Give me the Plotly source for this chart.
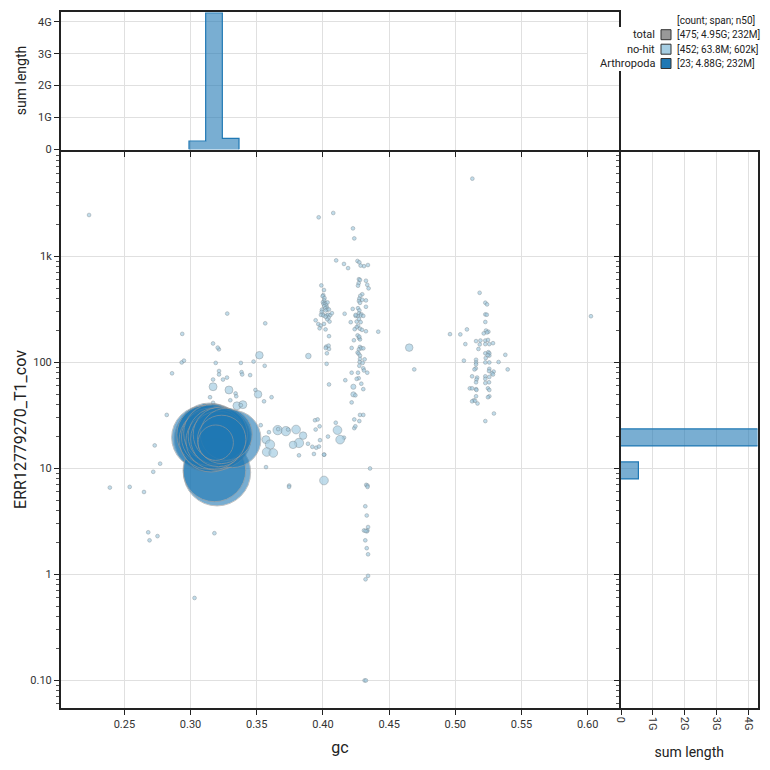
import numpy as np
import plotly.graph_objects as go

# ---------------- data ----------------
# Arthropoda contigs: gc, coverage, length (Mb)
arth_gc = [0.3095, 0.3315, 0.3270,
           0.3125, 0.3140, 0.3155, 0.3170, 0.3185, 0.3200, 0.3215, 0.3230, 0.3120,
           0.3135, 0.3150, 0.3165, 0.3180, 0.3195, 0.3210, 0.3225, 0.3235, 0.3190,
           0.3200, 0.3180]
arth_cov = [19.6, 19.0, 21.0,
            19.0, 20.5, 18.0, 21.0, 19.5, 18.5, 20.0, 19.2, 20.8,
            18.6, 19.8, 21.5, 18.2, 20.2, 19.0, 21.0, 18.8, 17.5,
            9.2, 9.6]
arth_len_mb = [260, 200, 150,
               290, 280, 240, 236, 232, 230, 228, 222, 218,
               212, 205, 200, 195, 190, 180, 170, 122, 50,
               313, 257]

# no-hit contigs: [gc, coverage, length (kb)]
nohit_top = [[0.2233, 2460, 80], [0.3968, 2340, 80], [0.4078, 2570, 80], [0.4227, 1840, 80],
             [0.4237, 1480, 80], [0.5129, 5420, 80], [0.6025, 273, 80]]

nohit_right = [[0.5184, 454, 80], [0.5227, 366, 80], [0.5240, 353, 80], [0.5227, 284, 80],
               [0.5238, 282, 80], [0.5227, 241, 80], [0.4960, 185, 80], [0.5038, 184, 80],
               [0.5088, 205, 80], [0.5076, 149, 80], [0.5232, 200, 80], [0.5250, 195, 80],
               [0.5215, 188, 80], [0.5240, 192, 80], [0.5157, 159, 80], [0.5190, 161, 80],
               [0.5185, 148, 80], [0.5227, 161, 80], [0.5247, 163, 80], [0.5227, 149, 80],
               [0.5257, 149, 80], [0.5285, 152, 80], [0.5175, 134, 80], [0.5227, 122, 80],
               [0.5250, 125, 80], [0.5257, 122, 80], [0.5257, 116, 80], [0.5245, 117, 80],
               [0.5378, 118, 80], [0.5230, 110, 80], [0.5157, 106, 80], [0.5065, 104, 80],
               [0.5157, 100, 80], [0.5157, 96, 80], [0.5227, 100, 80], [0.5257, 100, 80],
               [0.5327, 101, 80], [0.5155, 88, 80], [0.5145, 86, 80], [0.5257, 87, 80],
               [0.5255, 83, 80], [0.5290, 82, 80], [0.5277, 79, 80], [0.5285, 77, 80],
               [0.5396, 86, 80], [0.5127, 74, 80], [0.5165, 72, 80], [0.5160, 69, 80],
               [0.5227, 74, 80], [0.5257, 73, 80], [0.5227, 70, 80], [0.5255, 65, 80],
               [0.5227, 64, 80], [0.5157, 65, 80], [0.5110, 57, 80], [0.5127, 57, 80],
               [0.5157, 56, 80], [0.5160, 55, 80], [0.5247, 57, 80], [0.5257, 55, 80],
               [0.5157, 48, 80], [0.5257, 48, 80], [0.5247, 47, 80], [0.5140, 44, 80],
               [0.5127, 43, 80], [0.5150, 43.5, 80], [0.5168, 41, 80], [0.5292, 33, 80],
               [0.5227, 28, 80]]

nohit_col40 = [[0.3988, 533, 80], [0.4008, 482, 80], [0.4003, 431, 80], [0.3998, 422, 80],
               [0.4012, 405, 80], [0.4010, 385, 80], [0.4000, 370, 80], [0.4015, 365, 80],
               [0.4005, 355, 80], [0.4020, 357, 80], [0.4035, 368, 80], [0.4025, 345, 80],
               [0.4010, 340, 80], [0.4030, 330, 80], [0.4018, 325, 80], [0.3993, 315, 80],
               [0.4033, 315, 80], [0.4020, 309, 80], [0.4045, 316, 80], [0.3990, 300, 80],
               [0.3998, 284, 80], [0.3985, 281, 80], [0.4005, 277, 80], [0.4028, 278, 80],
               [0.4040, 282, 80], [0.4055, 279, 80], [0.4068, 292, 80], [0.4043, 265, 80],
               [0.4033, 255, 80], [0.4020, 270, 80], [0.3945, 250, 80], [0.3965, 230, 80],
               [0.3983, 223, 80], [0.4008, 231, 80], [0.4050, 243, 80], [0.3975, 210, 80],
               [0.4020, 205, 80], [0.4046, 177, 80], [0.4025, 141, 80], [0.4043, 144, 80],
               [0.4046, 134, 80], [0.4021, 137, 80], [0.4030, 122, 80], [0.4028, 97, 80],
               [0.4046, 62, 80], [0.3890, 115, 250], [0.4164, 288, 80], [0.4169, 68, 80],
               [0.4217, 80, 80], [0.4217, 42, 80], [0.4097, 27, 80], [0.4038, 20, 80],
               [0.4110, 23, 900], [0.4159, 19.5, 80], [0.4130, 18.7, 900], [0.4010, 13.5, 80],
               [0.3978, 18.5, 80], [0.3920, 16.0, 80], [0.3950, 15.7, 80], [0.3970, 16.1, 80],
               [0.3940, 28.5, 80], [0.3960, 29.0, 80], [0.3975, 25.0, 80], [0.3945, 23.3, 80],
               [0.4008, 7.7, 900]]

nohit_col43 = [[0.4261, 906, 80], [0.4275, 880, 80], [0.4100, 918, 80], [0.4159, 850, 80],
               [0.4190, 776, 80], [0.4310, 810, 80], [0.4340, 830, 80], [0.4285, 820, 80],
               [0.4272, 610, 80], [0.4280, 600, 80], [0.4270, 560, 80], [0.4265, 530, 80],
               [0.4325, 590, 80], [0.4335, 540, 80], [0.4345, 500, 80], [0.4297, 440, 80],
               [0.4282, 425, 80], [0.4275, 400, 80], [0.4272, 380, 80], [0.4297, 390, 80],
               [0.4325, 385, 80], [0.4280, 365, 80], [0.4325, 335, 80], [0.4225, 320, 80],
               [0.4265, 325, 80], [0.4275, 310, 80], [0.4272, 290, 80], [0.4290, 285, 80],
               [0.4285, 277, 80], [0.4305, 275, 80], [0.4262, 275, 80], [0.4247, 275, 80],
               [0.4418, 195, 80], [0.4210, 240, 80], [0.4255, 243, 80], [0.4272, 257, 80],
               [0.4285, 240, 80], [0.4265, 222, 80], [0.4255, 215, 80], [0.4280, 208, 80],
               [0.4295, 203, 80], [0.4325, 197, 80], [0.4240, 206, 80], [0.4262, 180, 80],
               [0.4272, 170, 80], [0.4280, 165, 80], [0.4275, 175, 80], [0.4217, 137, 80],
               [0.4280, 140, 80], [0.4272, 133, 80], [0.4290, 136, 80], [0.4305, 136, 80],
               [0.4262, 124, 80], [0.4270, 121, 80], [0.4280, 116, 80], [0.4280, 108, 80],
               [0.4315, 107, 80], [0.4277, 101, 80], [0.4300, 99, 80], [0.4275, 93, 80],
               [0.4305, 88, 80], [0.4310, 84, 80], [0.4335, 80, 80], [0.4265, 80, 80],
               [0.4270, 71, 80], [0.4255, 70, 80], [0.4290, 63, 80], [0.4305, 56, 80],
               [0.4230, 59, 200], [0.4230, 50, 200], [0.4245, 49, 80], [0.4280, 32, 80],
               [0.4305, 32, 80], [0.4275, 28, 80], [0.4237, 29, 80], [0.4237, 24, 80],
               [0.4245, 25, 80], [0.4356, 10.0, 80], [0.4327, 7.0, 80], [0.4337, 6.9, 80],
               [0.4337, 6.7, 80], [0.4320, 4.4, 80], [0.4331, 3.6, 80], [0.4341, 2.8, 80],
               [0.4336, 2.6, 80], [0.4310, 2.6, 80], [0.4332, 2.55, 80], [0.4322, 2.58, 80],
               [0.4320, 2.1, 80], [0.4331, 1.77, 80], [0.4341, 1.55, 80], [0.4341, 0.97, 80],
               [0.4322, 0.90, 80], [0.4315, 0.10, 80], [0.4325, 0.10, 80], [0.4652, 138, 600],
               [0.4690, 86, 80], [0.4247, 281, 80], [0.4234, 162, 80]]

nohit_left = [[0.2933, 100, 80], [0.2950, 104, 80], [0.3190, 99, 80], [0.3380, 99, 80],
              [0.3476, 102, 80], [0.3560, 93, 80], [0.2860, 79, 80], [0.3215, 83, 80],
              [0.3385, 81, 80], [0.3390, 77, 80], [0.3450, 76, 80], [0.3215, 77, 80],
              [0.3275, 72, 80], [0.3245, 69, 80], [0.3170, 69, 80], [0.3170, 59, 700],
              [0.3290, 55, 700], [0.3340, 51, 80], [0.3345, 48, 80], [0.3147, 47, 80],
              [0.3490, 55, 80], [0.3510, 50, 600], [0.3555, 43, 80], [0.3612, 47, 80],
              [0.3170, 41.6, 80], [0.3300, 44, 80], [0.3350, 39, 700], [0.3395, 40, 700],
              [0.3380, 39.5, 80], [0.3105, 39, 80], [0.2820, 32, 80], [0.3530, 25.6, 80],
              [0.3658, 23, 1100], [0.3720, 22.5, 1100], [0.3592, 22, 80], [0.3570, 18.7, 700],
              [0.3600, 16.8, 1100], [0.3575, 14.3, 900], [0.3625, 14.0, 900], [0.3570, 10.3, 80],
              [0.2729, 16.5, 80], [0.2770, 11.1, 80], [0.2718, 9.3, 80], [0.2540, 6.7, 80],
              [0.2648, 6.0, 80], [0.3745, 6.9, 80], [0.2390, 6.6, 80], [0.2680, 2.5, 80],
              [0.2690, 2.1, 80], [0.2750, 2.3, 80], [0.3180, 2.45, 80], [0.3030, 0.60, 80],
              [0.2937, 186, 80], [0.3277, 289, 80], [0.3564, 234, 80], [0.3170, 151, 80],
              [0.3214, 133, 80], [0.3205, 138, 80], [0.3520, 117, 600], [0.3662, 23.5, 80],
              [0.3737, 23.3, 80], [0.3797, 23.3, 900], [0.3850, 20.4, 600], [0.3819, 17.4, 1100],
              [0.3774, 16.7, 600], [0.3887, 17.1, 80], [0.3932, 13.7, 80], [0.3819, 13.3, 80],
              [0.4008, 13.5, 80], [0.3744, 6.7, 80]]

legend_labels = ["total", "no-hit", "Arthropoda"]
legend_stats = ["[475; 4.95G; 232M]", "[452; 63.8M; 602k]", "[23; 4.88G; 232M]"]
legend_header = "[count; span; n50]"

gc_ticks = [0.25, 0.30, 0.35, 0.40, 0.45, 0.50, 0.55, 0.60]
gc_ticktext = ["0.25", "0.30", "0.35", "0.40", "0.45", "0.50", "0.55", "0.60"]
cov_ticks = [0.1, 1, 10, 100, 1000]
cov_ticktext = ["0.10", "1", "10", "100", "1k"]
len_ticks = [0, 1e9, 2e9, 3e9, 4e9]
len_ticktext = ["0", "1G", "2G", "3G", "4G"]

gc_bin_start, gc_bin_size = 0.2988, 0.0126
logcov_bin_start, logcov_bin_size = 0.895, 0.157

# ---------------- styling helpers ----------------
FONT = "Roboto"
LINE = "#222222"
GRID = "#e0e0e0"
X_RANGE = [0.2021, 0.6237]
LOGY_RANGE = [-1.255, 3.99]
HIST_FILL = "rgba(31,120,180,0.6)"
HIST_LINE = "#1f78b4"


def px_size(length_bp):
    return np.maximum(3.3, 9.0 * (np.asarray(length_bp) / 1e6) ** 0.35)


nohit = np.array(nohit_top + nohit_right + nohit_col40 + nohit_col43 + nohit_left, dtype=float)
nh_gc, nh_cov, nh_len = nohit[:, 0], nohit[:, 1], nohit[:, 2] * 1e3

a_gc = np.array(arth_gc)
a_cov = np.array(arth_cov)
a_len = np.array(arth_len_mb) * 1e6
order = np.argsort(-a_len)

# histograms (sum of length per bin)
gc_edges = gc_bin_start + gc_bin_size * np.arange(0, 35)
gc_sum, _ = np.histogram(a_gc, bins=gc_edges, weights=a_len)
lc_edges = logcov_bin_start + logcov_bin_size * np.arange(-14, 20)
lc_sum, _ = np.histogram(np.log10(a_cov), bins=lc_edges, weights=a_len)

fig = go.Figure()

fig.add_trace(go.Scatter(
    x=nh_gc, y=nh_cov, mode="markers", xaxis="x", yaxis="y", showlegend=False,
    marker=dict(size=px_size(nh_len), color="#a6cee3", opacity=0.7,
                line=dict(color="#707f88", width=0.6))))

fig.add_trace(go.Scatter(
    x=a_gc[order], y=a_cov[order], mode="markers", xaxis="x", yaxis="y", showlegend=False,
    marker=dict(size=px_size(a_len[order]), color="#1f78b4", opacity=0.6,
                line=dict(color="#9a9a9a", width=1))))

# top histogram: filled bars + step outline
gc_centers = (gc_edges[:-1] + gc_edges[1:]) / 2
fig.add_trace(go.Bar(x=gc_centers, y=gc_sum, width=gc_bin_size, xaxis="x2", yaxis="y2",
                     showlegend=False, marker=dict(color=HIST_FILL, line=dict(width=0))))
nz = np.nonzero(gc_sum)[0]
lo, hi = nz[0], nz[-1]
sx = np.concatenate([[gc_edges[lo]], np.repeat(gc_edges[lo:hi + 2], 2)[1:-1], [gc_edges[hi + 1]]])
sy = np.concatenate([[0], np.repeat(gc_sum[lo:hi + 1], 2), [0]])
fig.add_trace(go.Scatter(x=sx, y=sy, mode="lines", xaxis="x2", yaxis="y2", showlegend=False,
                         line=dict(color=HIST_LINE, width=1.2)))

# right histogram (log10 coverage bins)
lc_centers = (lc_edges[:-1] + lc_edges[1:]) / 2
fig.add_trace(go.Bar(y=lc_centers, x=lc_sum, width=logcov_bin_size, orientation="h",
                     xaxis="x3", yaxis="y3", showlegend=False,
                     marker=dict(color=HIST_FILL, line=dict(color=HIST_LINE, width=1.2))))

W = 770.0
def xp(p):
    return p / W
def yp(p):
    return 1 - p / W

XD_MAIN = [xp(61), xp(619)]
XD_RIGHT = [xp(621), xp(757.5)]
YD_MAIN = [yp(707.5), yp(151.5)]
YD_TOP = [yp(149.5), yp(11.5)]

axis_common = dict(showline=True, linecolor=LINE, linewidth=2, mirror=True,
                   ticks="outside", tickcolor=LINE, ticklen=5, tickwidth=1,
                   gridcolor=GRID, gridwidth=1, zeroline=False, automargin=False,
                   tickfont=dict(family=FONT, size=11, color="#333"))

minor_log = [m * 10.0 ** d for d in range(-2, 4) for m in range(2, 10)]

fig.update_layout(
    width=770, height=770, margin=dict(l=0, r=0, t=0, b=0),
    paper_bgcolor="white", plot_bgcolor="white",
    font=dict(family=FONT, color="#222"),
    bargap=0,
    xaxis=dict(domain=XD_MAIN, range=X_RANGE, anchor="y", tickvals=gc_ticks,
               ticktext=gc_ticktext,
               title=dict(text="gc", font=dict(size=16, family=FONT), standoff=12),
               **axis_common),
    yaxis=dict(domain=YD_MAIN, type="log", range=LOGY_RANGE, anchor="x",
               tickvals=cov_ticks, ticktext=cov_ticktext,
               minor=dict(tickvals=minor_log, ticks="outside", ticklen=3,
                          tickcolor="#555", showgrid=False),
               title=dict(text="ERR12779270_T1_cov", font=dict(size=16, family=FONT), standoff=0),
               **axis_common),
    xaxis2=dict(domain=XD_MAIN, range=X_RANGE, anchor="y2", tickvals=gc_ticks,
                showticklabels=False, **axis_common),
    yaxis2=dict(domain=YD_TOP, range=[0, 4.32e9], anchor="x2", tickvals=len_ticks,
                ticktext=len_ticktext,
                title=dict(text="sum length", font=dict(size=14, family=FONT), standoff=8),
                **axis_common),
    xaxis3=dict(domain=XD_RIGHT, range=[0, 4.27e9], anchor="y3", tickvals=len_ticks,
                ticktext=len_ticktext, tickangle=90,
                title=dict(text="sum length", font=dict(size=14, family=FONT), standoff=18),
                **axis_common),
    yaxis3=dict(domain=YD_MAIN, range=LOGY_RANGE, anchor="x3",
                tickvals=[float(np.log10(v)) for v in cov_ticks], showticklabels=False,
                minor=dict(tickvals=[float(np.log10(v)) for v in minor_log], ticks="outside",
                           ticklen=3, tickcolor="#555", showgrid=False),
                **axis_common),
)

# legend (drawn as shapes + text)
shapes = [dict(type="rect", xref="paper", yref="paper", x0=xp(588), x1=xp(770),
               y0=yp(71), y1=yp(27), fillcolor="white", line=dict(width=0), layer="above")]
annotations = [dict(text=legend_header, xref="paper", yref="paper", x=xp(675), y=yp(20),
                    xanchor="left", yanchor="middle", showarrow=False,
                    font=dict(family=FONT, size=10, color="#222"))]
swatch = ["#999999", "#a6cee3", "#1f78b4"]
rows_y = [34.7, 49.2, 63.5]
for lab, stat, col, ry in zip(legend_labels, legend_stats, swatch, rows_y):
    shapes.append(dict(type="rect", xref="paper", yref="paper", x0=xp(661), x1=xp(671),
                       y0=yp(ry + 5), y1=yp(ry - 5), fillcolor=col,
                       line=dict(color="#333", width=1), layer="above"))
    annotations.append(dict(text=lab, xref="paper", yref="paper", x=xp(657), y=yp(ry),
                            xanchor="right", yanchor="middle", showarrow=False,
                            font=dict(family=FONT, size=11, color="#222")))
    annotations.append(dict(text=stat, xref="paper", yref="paper", x=xp(675), y=yp(ry),
                            xanchor="left", yanchor="middle", showarrow=False,
                            font=dict(family=FONT, size=10, color="#222")))
fig.update_layout(shapes=shapes, annotations=annotations)

fig.write_html("out.html")
